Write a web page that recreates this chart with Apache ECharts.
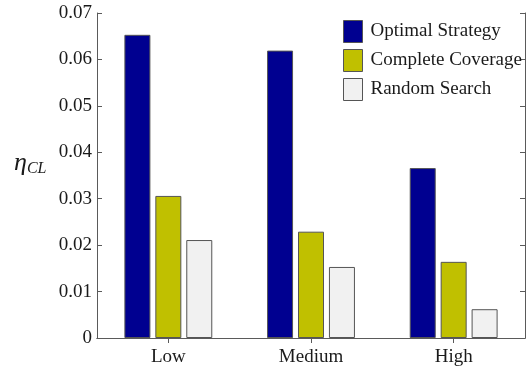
<!DOCTYPE html>
<html>
<head>
<meta charset="utf-8">
<script src="https://cdn.jsdelivr.net/npm/echarts@6/dist/echarts.min.js"></script>
<style>
  html, body { margin: 0; padding: 0; background: #fff; }
  #chart { width: 528px; height: 367px; }
</style>
</head>
<body>
<div id="chart"></div>
<script>
// Search scenarios along the x axis
const categories = ['Low', 'Medium', 'High'];

// eta_CL per strategy
const optimalStrategy = [0.0653, 0.0619, 0.0366];
const completeCoverage = [0.0306, 0.0229, 0.0164];
const randomSearch = [0.0211, 0.0153, 0.0062];

const seriesNames = ['Optimal Strategy', 'Complete Coverage', 'Random Search'];

// y axis ticks
const yMin = 0;
const yMax = 0.07;
const yStep = 0.01;

const FONT = '"Liberation Serif", "Times New Roman", serif';
const AXIS_COLOR = '#5a5a5a';
const TEXT_COLOR = '#1a1a1a';

const chart = echarts.init(document.getElementById('chart'), null, { renderer: 'canvas' });

const boxAxisLine = { show: true, lineStyle: { color: AXIS_COLOR, width: 1 } };
const insideTick = { show: true, inside: true, length: 5, lineStyle: { color: AXIS_COLOR, width: 1 } };

function barSeries(name, data, color) {
  return {
    name: name,
    type: 'bar',
    data: data,
    barWidth: 26,
    barGap: '19%',
    itemStyle: { color: color, borderColor: '#555', borderWidth: 1 },
    emphasis: { disabled: true }
  };
}

chart.setOption({
  animation: false,
  backgroundColor: '#fff',
  textStyle: { fontFamily: FONT },
  grid: { left: 97, right: 3, top: 13, bottom: 29, containLabel: false },
  legend: {
    orient: 'vertical',
    left: 338,
    top: 15,
    itemWidth: 19,
    itemHeight: 22,
    itemGap: 6,
    icon: 'rect',
    data: seriesNames,
    textStyle: { fontFamily: FONT, fontSize: 19, color: TEXT_COLOR, padding: [0, 0, 0, 3] },
    itemStyle: { borderColor: '#555', borderWidth: 1 }
  },
  graphic: [{
    type: 'text',
    left: 14,
    top: 150,
    style: {
      text: '{eta|η}{sub|CL}',
      rich: {
        eta: { fontFamily: FONT, fontStyle: 'italic', fontSize: 26, fill: TEXT_COLOR },
        sub: { fontFamily: FONT, fontStyle: 'italic', fontSize: 16, fill: TEXT_COLOR, padding: [12, 0, 0, 0] }
      }
    }
  }],
  xAxis: [{
    type: 'category',
    data: categories,
    position: 'bottom',
    axisLine: boxAxisLine,
    axisTick: Object.assign({ alignWithLabel: true }, insideTick),
    axisLabel: { fontFamily: FONT, fontSize: 19, color: TEXT_COLOR, margin: 10 },
    splitLine: { show: false }
  }, {
    type: 'category',
    data: categories,
    position: 'top',
    axisLine: boxAxisLine,
    axisTick: Object.assign({ alignWithLabel: true }, insideTick),
    axisLabel: { show: false },
    splitLine: { show: false }
  }],
  yAxis: [{
    type: 'value',
    min: yMin,
    max: yMax,
    interval: yStep,
    position: 'left',
    axisLine: boxAxisLine,
    axisTick: insideTick,
    axisLabel: {
      fontFamily: FONT, fontSize: 19, color: TEXT_COLOR, margin: 5,
      formatter: v => (v === 0 ? '0' : v.toFixed(2))
    },
    splitLine: { show: false }
  }, {
    type: 'value',
    min: yMin,
    max: yMax,
    interval: yStep,
    position: 'right',
    axisLine: boxAxisLine,
    axisTick: insideTick,
    axisLabel: { show: false },
    splitLine: { show: false }
  }],
  series: [
    barSeries(seriesNames[0], optimalStrategy, '#000090'),
    barSeries(seriesNames[1], completeCoverage, '#c0c000'),
    barSeries(seriesNames[2], randomSearch, '#f1f1f1')
  ]
});
</script>
</body>
</html>
